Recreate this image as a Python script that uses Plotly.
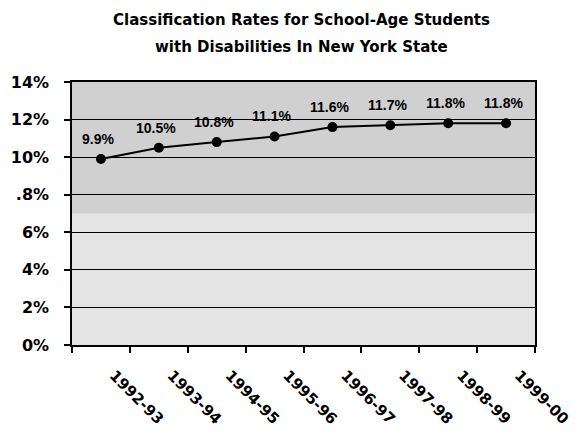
import plotly.graph_objects as go

years = ["1992-93", "1993-94", "1994-95", "1995-96", "1996-97", "1997-98", "1998-99", "1999-00"]
rates = [9.9, 10.5, 10.8, 11.1, 11.6, 11.7, 11.8, 11.8]
labels = ["9.9%", "10.5%", "10.8%", "11.1%", "11.6%", "11.7%", "11.8%", "11.8%"]
y_ticks = [0, 2, 4, 6, 8, 10, 12, 14]
y_tick_text = ["0%", "2%", "4%", "6%", ".8%", "10%", "12%", "14%"]
title_lines = ["Classification Rates for School-Age Students",
               "with Disabilities In New York State"]

ARIAL = "Liberation Sans, Arial, sans-serif"
WIDE = "DejaVu Sans, Verdana, sans-serif"

fig = go.Figure()
fig.add_trace(go.Scatter(
    x=years, y=rates, mode="lines+markers",
    line=dict(color="black", width=2),
    marker=dict(color="black", size=10),
    cliponaxis=False,
    showlegend=False,
))

# data labels above the points
for xv, yv, lab in zip(years, rates, labels):
    fig.add_annotation(
        x=xv, y=yv, text=lab, showarrow=False,
        yshift=20, xshift=-3, xanchor="center", yanchor="middle",
        font=dict(family=ARIAL, size=14, color="black", weight="bold"),
    )

# speckled-looking background bands
fig.add_shape(type="rect", xref="paper", yref="y", x0=0, x1=1, y0=7, y1=14,
              fillcolor="#d0d0d0", line_width=0, layer="below")
fig.add_shape(type="rect", xref="paper", yref="y", x0=0, x1=1, y0=0, y1=7,
              fillcolor="#e4e4e4", line_width=0, layer="below")

# two-line title with wider line spacing
for line, shift in zip(title_lines, [62, 35]):
    fig.add_annotation(
        text=line, xref="paper", yref="paper", x=0.495, y=1,
        xanchor="center", yanchor="middle", yshift=shift, showarrow=False,
        font=dict(family=WIDE, size=15, color="black", weight="bold"),
    )

fig.update_layout(
    width=573, height=429,
    margin=dict(l=64, r=46, t=74, b=92, autoexpand=False),
    paper_bgcolor="white", plot_bgcolor="#dcdcdc",
    font=dict(family=ARIAL, color="black"),
)
fig.update_xaxes(
    type="category", tickson="boundaries", ticks="outside", ticklen=6,
    tickcolor="black", tickwidth=1.5, automargin=False,
    showgrid=False, showline=True, linecolor="black", linewidth=1.5, mirror=True,
    tickangle=45, tickfont=dict(family=WIDE, size=15, color="black", weight="bold"),
    ticklabelstandoff=14, ticklabelshift=13,
    range=[-0.5, 7.5],
)
fig.update_yaxes(
    range=[0, 14], tickvals=y_ticks, ticktext=y_tick_text,
    ticks="outside", ticklen=6, tickcolor="black", tickwidth=1.5, automargin=False,
    showgrid=True, gridcolor="black", gridwidth=1.2,
    showline=True, linecolor="black", linewidth=1.5, mirror=True,
    tickfont=dict(family=WIDE, size=16, color="black", weight="bold"),
    ticklabelstandoff=12,
    zeroline=False,
)

fig.write_html("out.html")
